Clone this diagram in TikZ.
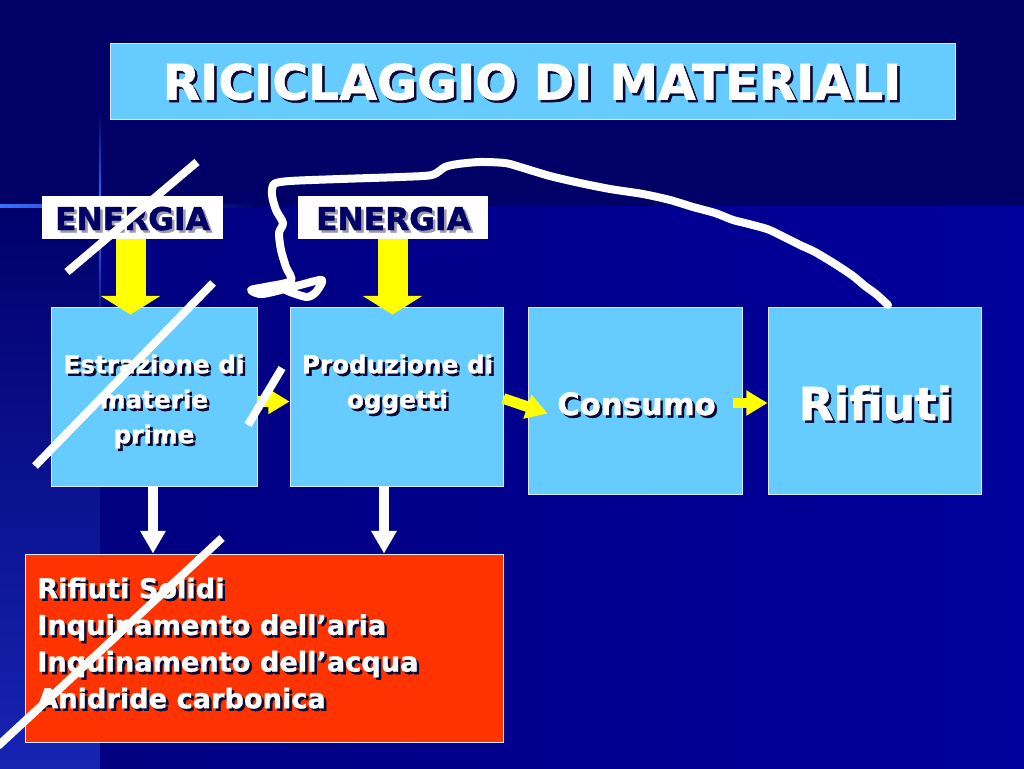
\documentclass[tikz,border=0pt]{standalone}
\usepackage{fontspec}
\setmainfont{DejaVu Sans}[BoldFeatures={FakeBold=1.2}]
\usetikzlibrary{arrows.meta,calc}
\definecolor{topbg}{HTML}{000066}
\definecolor{mainL}{HTML}{000080}
\definecolor{mainR}{HTML}{00009C}
\definecolor{stripT}{HTML}{00006C}
\definecolor{stripB}{HTML}{1624B2}
\definecolor{glow}{HTML}{3A70FF}
\definecolor{lblue}{HTML}{66CCFF}
\definecolor{redbox}{HTML}{FF3300}
\definecolor{boxedge}{HTML}{D8ECFF}
\definecolor{shadowc}{HTML}{0A0A30}
\definecolor{navytext}{HTML}{000066}
\definecolor{grayshadow}{HTML}{9A9AAA}
\definecolor{yel}{HTML}{FFFF00}
% text with a drop shadow, inside one node
\newcommand\sh[2][shadowc]{\makebox[0pt][l]{\color{#1}\kern1.9pt\raisebox{-1.9pt}[0pt][0pt]{#2}}#2}
\tikzset{
  panel/.style={draw=boxedge, line width=0.6pt, inner sep=0pt},
  bluepanel/.style={panel, fill=lblue},
  whitepanel/.style={panel, fill=white, draw=white},
  redpanel/.style={panel, fill=redbox},
  txt/.style={inner sep=0pt, text=white},
  entxt/.style={inner sep=0pt, text=navytext, anchor=base, font={\bfseries\fontsize{23.5}{26}\selectfont}},
  ybig/.style={draw=yel, line width=22.5pt, -{Triangle[width=44pt,length=14pt]}},
  ysmall/.style={draw=yel, line width=8pt, -{Triangle[width=18pt,length=16pt]}},
  warrow/.style={draw=white, line width=7pt, -{Triangle[width=18pt,length=17pt]}},
  strike/.style={draw=white, line width=6pt},
  scribble/.style={draw=white, line width=6pt, line cap=round, line join=round},
}
\begin{document}
\begin{tikzpicture}[x=0.75pt,y=-0.75pt]
\useasboundingbox (0,0) rectangle (1024,768);
% background
\fill[topbg] (0,0) rectangle (1024,768);
\shade[left color=mainL, right color=mainR] (100,206) rectangle (1024,768);
\shade[top color=stripT, bottom color=stripB] (0,206) rectangle (100,768);
% decorative glow lines
\shade[left color=glow, right color=topbg] (0,204.5) rectangle (260,207.5);
\shade[top color=topbg, bottom color=glow] (98.8,110) rectangle (101.2,206);
\shade[top color=glow, bottom color=stripT] (98.8,206) rectangle (101.2,340);

% title
\node[bluepanel, minimum width=633.75pt, minimum height=57pt] (title) at (532.5,81) {};
\node[txt, anchor=base, font={\bfseries\fontsize{36.6}{40}\selectfont}] (titletext) at (532,99.5) {\sh{RICICLAGGIO DI MATERIALI}};

% energy labels
\node[whitepanel, minimum width=135pt, minimum height=31.5pt] (e1) at (132,217.5) {};
\node[whitepanel, minimum width=141.75pt, minimum height=31.5pt] (e2) at (392.5,217.5) {};
\node[entxt] (e1t) at (132.5,230) {\sh[grayshadow]{ENERGIA}};
\node[entxt] (e2t) at (393.5,230) {\sh[grayshadow]{ENERGIA}};

% process boxes
\node[bluepanel, minimum width=154.5pt, minimum height=134.25pt] (b1) at (154,396.5) {};
\node[bluepanel, minimum width=159.75pt, minimum height=134.25pt] (b2) at (396.5,396.5) {};
\node[bluepanel, minimum width=160.5pt, minimum height=140.25pt] (b3) at (635,400.5) {};
\node[bluepanel, minimum width=159.75pt, minimum height=140.25pt] (b4) at (874.5,400.5) {};
\node[redpanel, minimum width=358.5pt, minimum height=141pt] (red) at (264,648) {};

\node[txt, anchor=north, align=center, font={\bfseries\fontsize{18.5}{26.25}\selectfont}] (b1t) at (154,354.25) {\sh{Estrazione di}\\\sh{materie}\\\sh{prime}};
\node[txt, anchor=north, align=center, font={\bfseries\fontsize{18.5}{26.25}\selectfont}] (b2t) at (397.5,354.25) {\sh{Produzione di}\\\sh{oggetti}};
\node[txt, anchor=base, font={\bfseries\fontsize{23}{28}\selectfont}] (b3t) at (636.5,415) {\sh{Consumo}};
\node[txt, anchor=base, font={\bfseries\fontsize{34}{40}\selectfont}] (b4t) at (875.5,420) {\sh{Rifiuti}};
\node[txt, anchor=north west, align=left, font={\bfseries\fontsize{20.4}{27.5}\selectfont}] (redt) at (37,577.3) {\sh{Rifiuti Solidi}\\\sh{Inquinamento dell’aria}\\\sh{Inquinamento dell’acqua}\\\sh{Anidride carbonica}};

% yellow arrows
\draw[ybig] ($(e1.south)+(-1.5,0)$) -- ($(e1.south |- b1.north)+(-1.5,8)$);
\draw[ybig] (e2.south) -- ($(e2.south |- b2.north)+(0,8)$);
\draw[ysmall] ($(b1.east)+(0,5)$) -- ($(b2.west)+(0,5)$);
\draw[ysmall] ($(b2.east)+(0,2)$) -- ($(b3.west)+(20,13)$);
\draw[ysmall] ($(b3.east)+(-9,2.5)$) -- ($(b4.west)+(0,2.5)$);

% white arrows
\draw[warrow] ($(b1.south)+(-1,0)$) -- ($(b1.south |- red.north)+(-1,0)$);
\draw[warrow] ($(b2.south)+(-12.5,0)$) -- ($(b2.south |- red.north)+(-12.5,0)$);

% hand-drawn recycling loop
\draw[scribble] plot[smooth, tension=0.45] coordinates {
 (888,305) (876,294) (865,286) (853,276) (835,264) (815,252) (800,245)
 (780,235) (767,229) (745,223) (733,220) (715,213) (693,207) (670,200)
 (643,194) (610,189) (580,183) (550,176) (520,167) (505,163) (480,162)
 (458,164) (445,167) (432,175) (400,177) (340,179) (290,181) (274,184)
 (272,195) (276,210) (283,223) (279,233) (281,250) (286,267) (291,281)
 (265,287) (251,290) (263,294) (300,285) (322,280) (316,292) (307,297)
 (290,292) (284,289)};

% strike-out lines
\draw[strike] (67,272) -- (197,162);
\draw[strike] (35,466) -- (213,283);
\draw[strike] (248,425) -- (282,368);
\draw[strike] (-2,746) -- (222,538);
\end{tikzpicture}
\end{document}
